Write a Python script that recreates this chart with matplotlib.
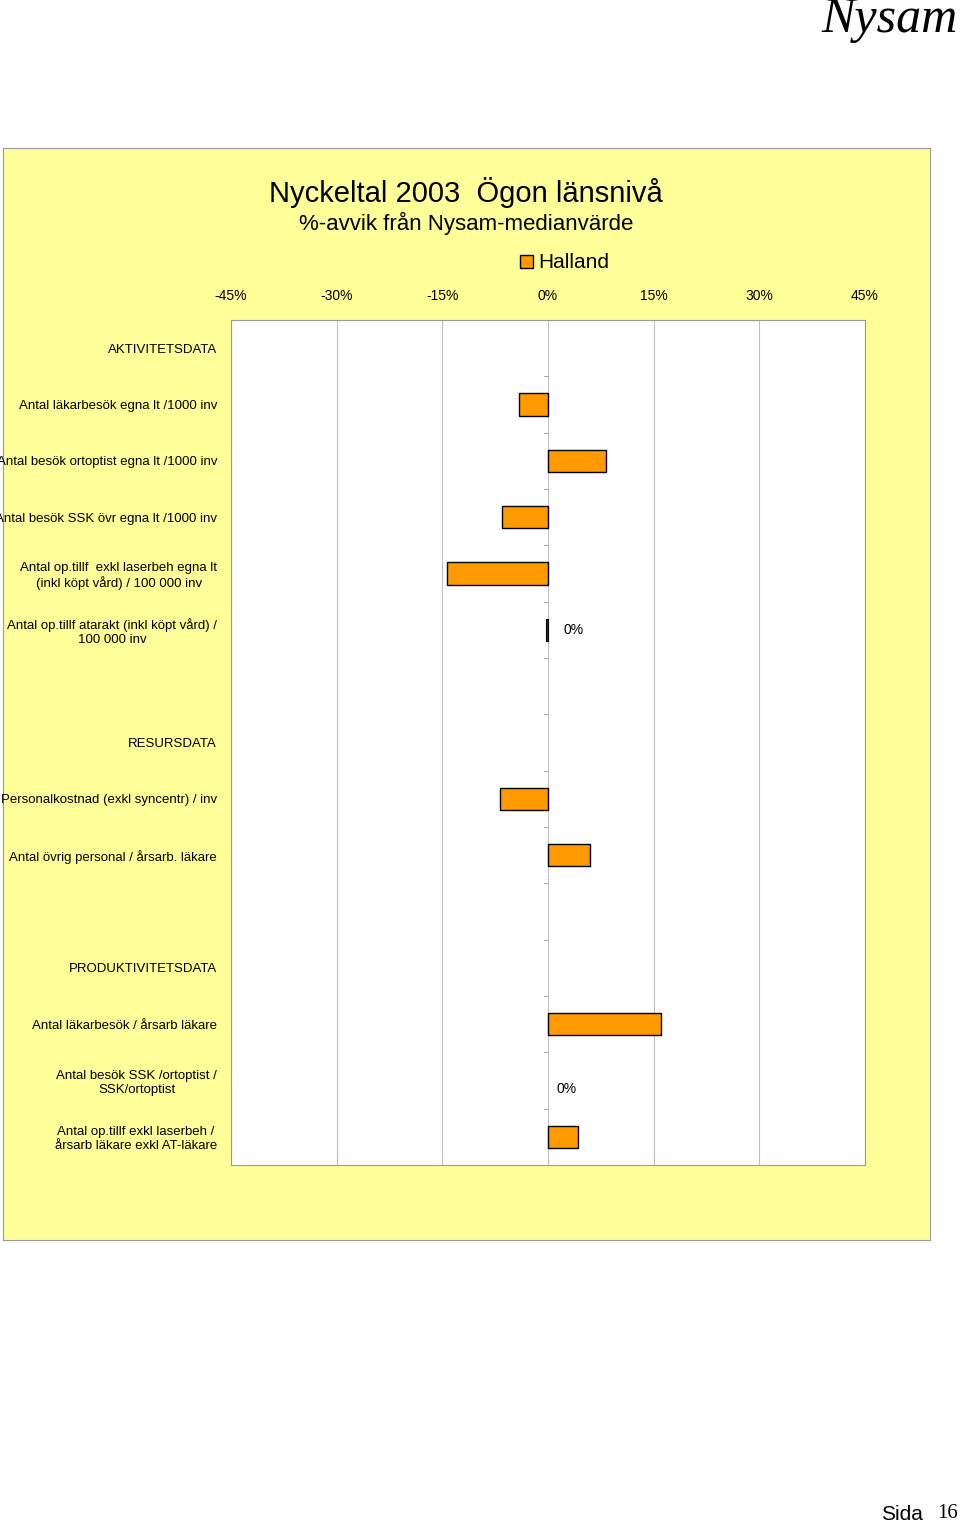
import matplotlib.pyplot as plt

plt.rcParams["font.family"] = "Liberation Sans"

# row labels top to bottom
labels = [
    "AKTIVITETSDATA",
    "Antal läkarbesök egna lt /1000 inv",
    "Antal besök ortoptist egna lt /1000 inv",
    "Antal besök SSK övr egna lt /1000 inv",
    "Antal op.tillf  exkl laserbeh egna lt\n(inkl köpt vård) / 100 000 inv",
    "Antal op.tillf atarakt (inkl köpt vård) /\n100 000 inv",
    "",
    "RESURSDATA",
    "Personalkostnad (exkl syncentr) / inv",
    "Antal övrig personal / årsarb. läkare",
    "",
    "PRODUKTIVITETSDATA",
    "Antal läkarbesök / årsarb läkare",
    "Antal besök SSK /ortoptist /\nSSK/ortoptist",
    "Antal op.tillf exkl laserbeh /\nårsarb läkare exkl AT-läkare",
]
values = [None, -4.1, 8.2, -6.5, -14.3, -0.3, None, None, -6.8, 6.0, None, None, 16.0, 0.0, 4.3]
zero_labels = {5: "0%", 13: "0%"}
ticks = [-45, -30, -15, 0, 15, 30, 45]

W, H = 960, 1524
fig = plt.figure(figsize=(W / 100, H / 100), dpi=100)
fig.patch.set_facecolor("white")

# yellow chart panel as a background axes
bg = fig.add_axes([3 / W, 1 - 1240 / H, 927 / W, 1092 / H], zorder=-10)
bg.set_facecolor("#FFFF99")
bg.set_xticks([])
bg.set_yticks([])
for s in bg.spines.values():
    s.set_color("#999999")
    s.set_linewidth(0.8)
bg.set_xlim(0, 927)
bg.set_ylim(1092, 0)
# legend swatch (panel pixel coords)
bg.add_patch(plt.Rectangle((517, 107), 13, 13, facecolor="#FF9900", edgecolor="black", lw=1))

ax = fig.add_axes([231 / W, 1 - 1165 / H, 634 / W, 845 / H])
ax.set_facecolor("white")
n = len(labels)
ax.set_xlim(-45, 45)
ax.set_ylim(n - 0.5, -0.5)

for x in ticks:
    ax.axvline(x, color="#C0C0C0", lw=0.8, zorder=1)

for i, v in enumerate(values):
    if v is None:
        continue
    if i == 5:
        ax.barh(i, v, height=0.4, color="#333333", edgecolor="black", lw=0.8, zorder=3)
        ax.text(2.2, i, zero_labels[i], va="center", fontsize=10)
        continue
    if i in zero_labels:
        ax.text(1.2, i + 0.15, zero_labels[i], va="center", fontsize=10)
        continue
    ax.barh(i, v, height=0.4, color="#FF9900", edgecolor="black", lw=1, zorder=3)

# small ticks at category boundaries along zero line
for b in range(n + 1):
    ax.plot([-0.6, 0], [b - 0.5, b - 0.5], color="#999999", lw=0.6, zorder=2, clip_on=False)

ax.set_yticks(range(n))
ax.set_yticklabels(labels, fontsize=9.5)
ax.tick_params(axis="y", length=0, pad=10)
for t in ax.get_yticklabels():
    t.set_multialignment("center")
ax.xaxis.tick_top()
ax.set_xticks(ticks)
ax.set_xticklabels([f"{t}%" for t in ticks], fontsize=10)
ax.tick_params(axis="x", length=0, pad=12)
for s in ax.spines.values():
    s.set_color("#999999")
    s.set_linewidth(0.8)

fig.text(466 / W, 1 - 192 / H, "Nyckeltal 2003  Ögon länsnivå", ha="center", va="center", fontsize=21)
fig.text(466 / W, 1 - 223 / H, "%-avvik från Nysam-medianvärde", ha="center", va="center", fontsize=16)
fig.text(538 / W, 1 - 262 / H, "Halland", ha="left", va="center", fontsize=15)

fig.text(958 / W, 1 - 20 / H, "Nysam", ha="right", va="center", fontsize=36,
         family="Liberation Serif", style="italic")
fig.text(923 / W, 1 - 1514 / H, "Sida", ha="right", va="center", fontsize=15)
fig.text(958 / W, 1 - 1514 / H, "16", ha="right", va="center", fontsize=15, family="Liberation Serif")

fig.savefig("out.png", dpi=100)
